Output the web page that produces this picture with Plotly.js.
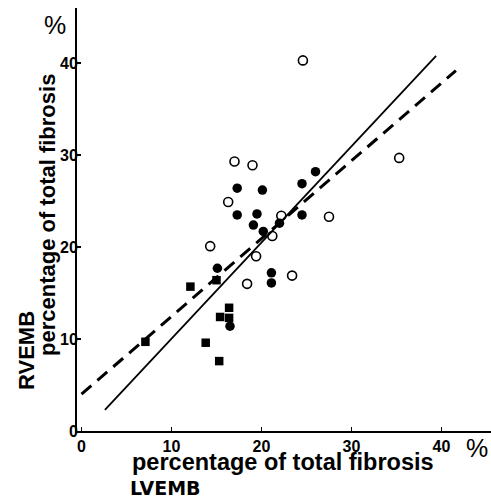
<!DOCTYPE html>
<html>
<head>
<meta charset="utf-8">
<script src="https://cdn.plot.ly/plotly-3.0.1.min.js"></script>
<style>html,body{margin:0;padding:0;background:#fff;}#chart{width:491px;height:502px;}</style>
</head>
<body>
<div id="chart"></div>
<script>
// Open circles
const openX = [24.6, 17.0, 19.0, 16.3, 14.3, 22.2, 27.5, 21.2, 19.4, 23.4, 35.3, 18.4];
const openY = [40.3, 29.3, 28.9, 24.9, 20.1, 23.4, 23.3, 21.2, 19.0, 16.9, 29.7, 16.0];
// Filled circles
const filledX = [26.0, 17.3, 20.1, 24.5, 17.3, 19.5, 19.1, 24.5, 20.2, 22.0, 15.1, 21.1, 21.1, 16.5];
const filledY = [28.2, 26.4, 26.2, 26.9, 23.5, 23.6, 22.4, 23.5, 21.7, 22.6, 17.7, 17.2, 16.1, 11.4];
// Filled squares
const squareX = [12.1, 15.0, 16.4, 15.4, 16.4, 13.8, 15.3, 7.1];
const squareY = [15.7, 16.4, 13.4, 12.4, 12.3, 9.6, 7.6, 9.7];
// Regression lines
const solidX = [2.6, 39.4];
const solidY = [2.3, 40.8];
const dashedX = [0.0, 41.6];
const dashedY = [4.0, 39.2];
// Ticks
const tickVals = [0, 10, 20, 30, 40];
const tickText = ['0', '10', '20', '30', '40'];

const FONT = 'Liberation Sans, Arial, sans-serif';

const traces = [
  {x: solidX, y: solidY, type: 'scatter', mode: 'lines',
   line: {color: '#000', width: 1.8}, hoverinfo: 'skip', showlegend: false},
  {x: dashedX, y: dashedY, type: 'scatter', mode: 'lines',
   line: {color: '#000', width: 3, dash: '13px,8px'}, hoverinfo: 'skip', showlegend: false},
  {x: openX, y: openY, type: 'scatter', mode: 'markers', showlegend: false,
   marker: {symbol: 'circle-open', size: 9, color: '#000', line: {width: 1.6, color: '#000'}}},
  {x: filledX, y: filledY, type: 'scatter', mode: 'markers', showlegend: false,
   marker: {symbol: 'circle', size: 9.5, color: '#000'}},
  {x: squareX, y: squareY, type: 'scatter', mode: 'markers', showlegend: false,
   marker: {symbol: 'square', size: 8.5, color: '#000'}}
];

const layout = {
  width: 491, height: 502,
  margin: {l: 77, r: 0, t: 8, b: 71},
  paper_bgcolor: '#fff', plot_bgcolor: '#fff',
  showlegend: false,
  xaxis: {
    range: [-0.5, 45.5], showgrid: false, zeroline: false,
    showline: true, linecolor: '#000', linewidth: 2,
    ticks: 'inside', ticklen: 4, tickwidth: 1.5, tickcolor: '#000',
    tickvals: tickVals, ticktext: tickText, ticklabelstandoff: 0,
    tickfont: {family: FONT, size: 16, color: '#000', weight: 'bold'}
  },
  yaxis: {
    range: [0, 46], showgrid: false, zeroline: false,
    showline: true, linecolor: '#000', linewidth: 2,
    ticks: 'inside', ticklen: 4, tickwidth: 1.5, tickcolor: '#000',
    tickvals: tickVals, ticktext: tickText, ticklabelstandoff: -6,
    tickfont: {family: FONT, size: 16, color: '#000', weight: 'bold'}
  },
  annotations: [
    {text: 'percentage of total fibrosis', xref: 'paper', yref: 'paper', x: 0.4976, y: -0.0735,
     xanchor: 'center', yanchor: 'middle',
     showarrow: false, font: {family: FONT, size: 23.5, color: '#000', weight: 'bold'}},
    {text: 'LVEMB', xref: 'paper', yref: 'paper', x: 0.2126, y: -0.1665,
     xanchor: 'center', yanchor: 'bottom',
     showarrow: false, font: {family: 'DejaVu Sans, sans-serif', size: 19, color: '#000', weight: 'bold'}},
    {text: '%', xref: 'paper', yref: 'paper', x: 0.966, y: -0.040,
     xanchor: 'center', yanchor: 'middle',
     showarrow: false, font: {family: FONT, size: 25, color: '#000'}},
    {text: '%', xref: 'paper', yref: 'paper', x: -0.053, y: 0.960,
     xanchor: 'center', yanchor: 'middle',
     showarrow: false, font: {family: FONT, size: 25, color: '#000'}},
    {text: 'percentage of total fibrosis', xref: 'paper', yref: 'paper', x: -0.0725, y: 0.5106,
     xanchor: 'center', yanchor: 'middle', textangle: -90,
     showarrow: false, font: {family: FONT, size: 22, color: '#000', weight: 'bold'}},
    {text: 'RVEMB', xref: 'paper', yref: 'paper', x: -0.1208, y: 0.1915,
     xanchor: 'center', yanchor: 'middle', textangle: -90,
     showarrow: false, font: {family: FONT, size: 22, color: '#000', weight: 'bold'}}
  ]
};

Plotly.newPlot('chart', traces, layout, {staticPlot: true, displayModeBar: false});
</script>
</body>
</html>
